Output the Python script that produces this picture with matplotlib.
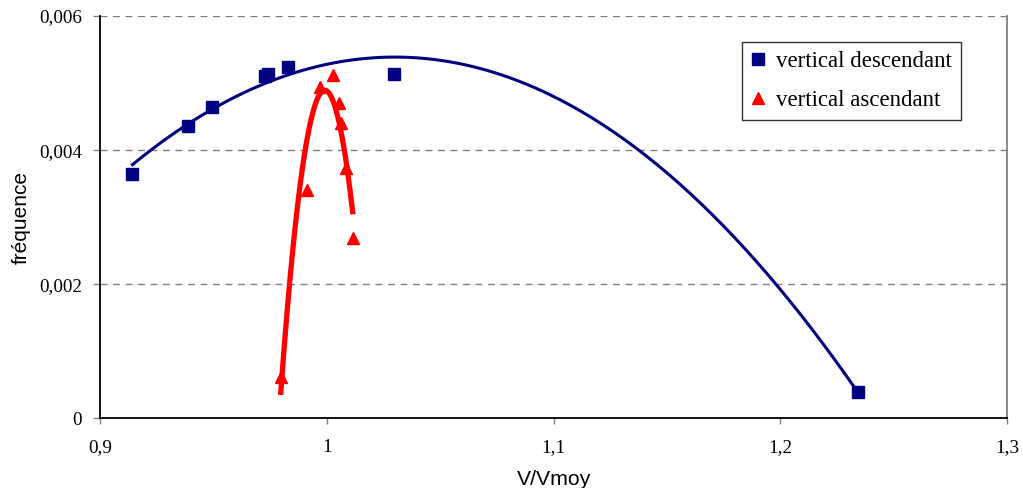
"""
Frequency vs V/Vmoy, vertical descendant / ascendant with polynomial trendlines.
"""

import matplotlib
matplotlib.use('Agg')
import matplotlib.pyplot as plt
from matplotlib.ticker import FuncFormatter
import numpy as np

# Data
desc_x = [0.9143, 0.9387, 0.9492, 0.9727, 0.9740, 0.9827, 1.0297, 1.2344]
desc_y = [0.003646, 0.004367, 0.004636, 0.005110, 0.005139, 0.005233, 0.005139, 0.000397]

asc_x = [0.9797, 0.9911, 0.9968, 1.0029, 1.0055, 1.0064, 1.0086, 1.0114]
asc_y = [0.000616, 0.003407, 0.004940, 0.005124, 0.004701, 0.004403, 0.003731, 0.002687]

x_ticks = [0.9, 1.0, 1.1, 1.2, 1.3]
y_ticks = [0, 0.002, 0.004, 0.006]

BLUE = '#000080'
RED = '#ff0000'


def comma(v, pos=None):
    s = f'{v:.3f}'.rstrip('0').rstrip('.') if v != 0 else '0'
    return s.replace('.', ',')


def trend(xs, ys, order):
    # polynomial trendline like the spreadsheet does
    coefs = np.polyfit(xs, ys, order)
    xx = np.linspace(min(xs), max(xs), 200)
    return xx, np.polyval(coefs, xx)


fig = plt.figure(figsize=(10.23, 4.88), dpi=100)
ax = fig.add_axes([0.0978, 0.1428, 0.8866, 0.8244])

# Grid lines
for yv in y_ticks[1:]:
    ax.axhline(yv, color='#808080', lw=1, ls=(0, (5, 4)), zorder=0)

# Trendlines (order 2 for both)
tx, ty = trend(desc_x, desc_y, 2)
ax.plot(tx, ty, color=BLUE, lw=2.2, zorder=2)
tx, ty = trend(asc_x, asc_y, 2)
ax.plot(tx, ty, color=RED, lw=3.8, zorder=2)

# Points
ax.plot(desc_x, desc_y, 's', color=BLUE, ms=8, label='vertical descendant', zorder=3)
ax.plot(asc_x, asc_y, '^', color=RED, ms=9, label='vertical ascendant', zorder=3)

ax.set_xlim(0.9, 1.3)
ax.set_ylim(0, 0.006)
ax.set_xticks(x_ticks)
ax.set_yticks(y_ticks)
ax.xaxis.set_major_formatter(FuncFormatter(comma))
ax.yaxis.set_major_formatter(FuncFormatter(comma))

for lab in ax.get_xticklabels() + ax.get_yticklabels():
    lab.set_family('Liberation Serif')
    lab.set_fontsize(13.8)
ax.tick_params(axis='x', length=4, width=1, pad=11, color='#808080')
ax.tick_params(axis='y', length=5, width=1, pad=8, color='#808080')

ax.spines['left'].set_color('black')
ax.spines['bottom'].set_color('black')
ax.spines['left'].set_linewidth(1.3)
ax.spines['bottom'].set_linewidth(1.3)
ax.spines['top'].set_visible(False)
ax.spines['right'].set_color('#808080')
ax.spines['right'].set_linewidth(1.3)

ax.set_xlabel('V/Vmoy', family='Liberation Sans', fontsize=15.3, labelpad=10)
ax.set_ylabel('fréquence', family='Liberation Sans', fontsize=15, labelpad=6)

leg = ax.legend(loc='upper left', bbox_to_anchor=(0.708, 0.935), borderaxespad=0,
                frameon=True, fancybox=False,
                prop={'family': 'Liberation Serif', 'size': 16.5},
                handlelength=0.6, handletextpad=0.46, borderpad=0.4, labelspacing=0.75)
leg.get_frame().set_edgecolor('black')
leg.get_frame().set_linewidth(1)

fig.savefig('out.png', dpi=100)
